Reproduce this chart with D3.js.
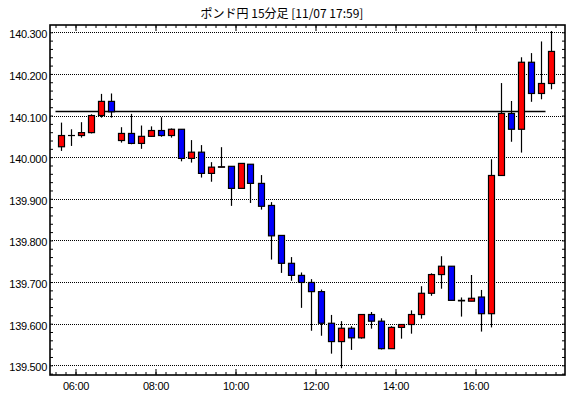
<!DOCTYPE html>
<html><head><meta charset="utf-8">
<script src="https://cdn.jsdelivr.net/npm/d3@7"></script>
<style>
html,body{margin:0;padding:0;background:#fff;}
svg{display:block;}
</style></head>
<body><svg id="chart" width="570" height="398"></svg>
<script>
const title = "ポンド円 15分足 [11/07 17:59]";
const times = ["05:30","05:45","06:00","06:15","06:30","06:45","07:00","07:15","07:30","07:45",
"08:00","08:15","08:30","08:45","09:00","09:15","09:30","09:45","10:00","10:15",
"10:30","10:45","11:00","11:15","11:30","11:45","12:00","12:15","12:30","12:45",
"13:00","13:15","13:30","13:45","14:00","14:15","14:30","14:45","15:00","15:15",
"15:30","15:45","16:00","16:15","16:30","16:45","17:00","17:15","17:30","17:45"];
const opens = [140.025,140.052,140.052,140.059,140.100,140.134,140.040,140.057,140.033,140.050,
140.064,140.052,140.067,139.997,140.012,139.961,139.976,139.978,139.925,139.983,
139.937,139.884,139.812,139.745,139.716,139.699,139.677,139.601,139.557,139.589,
139.566,139.622,139.606,139.540,139.591,139.598,139.622,139.673,139.718,139.738,
139.655,139.654,139.664,139.624,139.956,140.105,140.067,140.228,140.153,140.177];
const highs = [140.083,140.067,140.084,140.103,140.152,140.153,140.072,140.104,140.076,140.074,
140.096,140.069,140.067,140.041,140.029,139.988,140.024,139.978,139.985,139.983,
139.957,139.892,139.812,139.760,139.723,139.707,139.682,139.621,139.606,139.594,
139.622,139.628,139.613,139.594,139.598,139.632,139.690,139.721,139.762,139.738,
139.663,139.717,139.681,139.995,140.178,140.135,140.240,140.250,140.278,140.303];
const lows = [140.015,140.027,140.047,140.057,140.095,140.095,140.035,140.031,140.020,140.049,
140.049,140.047,139.990,139.987,139.951,139.941,139.976,139.883,139.925,139.890,
139.874,139.754,139.722,139.703,139.638,139.583,139.571,139.528,139.493,139.537,
139.564,139.588,139.538,139.540,139.564,139.576,139.612,139.667,139.684,139.656,
139.617,139.654,139.581,139.591,139.956,140.037,140.011,140.133,140.139,140.163];
const closes = [140.052,140.052,140.059,140.100,140.134,140.109,140.057,140.033,140.050,140.064,
140.052,140.067,139.997,140.012,139.961,139.976,139.977,139.925,139.985,139.937,
139.882,139.811,139.745,139.716,139.699,139.677,139.601,139.557,139.589,139.566,
139.622,139.606,139.540,139.591,139.598,139.622,139.673,139.718,139.738,139.656,
139.656,139.661,139.624,139.956,140.105,140.067,140.228,140.153,140.177,140.254];
const refLevel = 140.110;
const yLabels = ["139.500","139.600","139.700","139.800","139.900","140.000","140.100","140.200","140.300"];
const xLabels = ["06:00","08:00","10:00","12:00","14:00","16:00"];

const upColor = "#ff0000", downColor = "#0000ff";
const parseT = d3.timeParse("%Y-%m-%d %H:%M:%S");
const T = s => parseT("2023-11-07 " + (s.length === 5 ? s + ":00" : s));

const data = times.map((t, i) => ({t: T(t), o: opens[i], h: highs[i], l: lows[i], c: closes[i]}));

const L = 50, R = 565, TOP = 25, BOT = 375;
const svg = d3.select("#chart");
svg.append("rect").attr("width", 570).attr("height", 398).attr("fill", "#fff");

const x = d3.scaleTime().domain([T("05:21:45"), T("18:14:15")]).range([L, R]);
const y = d3.scaleLinear().domain([139.4767, 140.3175]).range([BOT, TOP]);
const half = 7.5 * 60 * 1000;
const cx = d => Math.round(x(new Date(+d.t + half))) + 0.5;

// gridlines
svg.append("g").selectAll("line").data(yLabels).join("line")
  .attr("x1", L).attr("x2", R)
  .attr("y1", d => Math.round(y(+d)) + 0.5).attr("y2", d => Math.round(y(+d)) + 0.5)
  .attr("stroke", "#000").attr("stroke-width", 1).attr("stroke-dasharray", "1,1");

// reference line
svg.append("line")
  .attr("x1", x(data[0].t)).attr("x2", x(data[data.length - 1].t))
  .attr("y1", Math.round(y(refLevel)) + 0.5).attr("y2", Math.round(y(refLevel)) + 0.5)
  .attr("stroke", "#000").attr("stroke-width", 1.3);

// candles
const g = svg.append("g");
g.selectAll("line.wick").data(data).join("line").attr("class", "wick")
  .attr("x1", cx).attr("x2", cx)
  .attr("y1", d => y(d.h)).attr("y2", d => y(d.l))
  .attr("stroke", "#000").attr("stroke-width", 1.2);
g.selectAll("rect.body").data(data.filter(d => Math.abs(d.c - d.o) >= 0.0005)).join("rect").attr("class", "body")
  .attr("x", d => cx(d) - 3).attr("width", 6)
  .attr("y", d => y(Math.max(d.o, d.c)))
  .attr("height", d => Math.max(0.5, Math.abs(y(d.o) - y(d.c))))
  .attr("fill", d => d.c > d.o ? upColor : downColor)
  .attr("stroke", "#000").attr("stroke-width", 1.2);
g.selectAll("line.doji").data(data.filter(d => Math.abs(d.c - d.o) < 0.0005)).join("line").attr("class", "doji")
  .attr("x1", d => cx(d) - 3.5).attr("x2", d => cx(d) + 3.5)
  .attr("y1", d => y(d.o)).attr("y2", d => y(d.o))
  .attr("stroke", "#000").attr("stroke-width", 1.2);

// ticks
const minorT = d3.timeMinute.every(15).range(T("05:22:00"), T("18:14:00"));
const majorT = xLabels.map(T);
const minorY = d3.range(139.48, 140.3101, 0.02);
const font = "'Liberation Sans', Arial, sans-serif";

function styleAxis(sel) {
  sel.select(".domain").remove();
  sel.selectAll(".tick line").attr("stroke", "#000").attr("stroke-width", 1);
  sel.selectAll("text").attr("fill", "#000").attr("font-family", font).attr("font-size", 11).attr("letter-spacing", "-0.3px");
}
svg.append("g").attr("transform", `translate(0,${BOT})`)
  .call(d3.axisBottom(x).tickValues(minorT).tickSize(-3).tickFormat("")).call(styleAxis);
svg.append("g").attr("transform", `translate(0,${BOT})`)
  .call(d3.axisBottom(x).tickValues(majorT).tickSize(-6).tickPadding(7).tickFormat(d3.timeFormat("%H:%M"))).call(styleAxis);
svg.append("g").attr("transform", `translate(0,${TOP})`)
  .call(d3.axisTop(x).tickValues(minorT).tickSize(-3).tickFormat("")).call(styleAxis);
svg.append("g").attr("transform", `translate(0,${TOP})`)
  .call(d3.axisTop(x).tickValues(majorT).tickSize(-6).tickFormat("")).call(styleAxis);
svg.append("g").attr("transform", `translate(${L},0)`)
  .call(d3.axisLeft(y).tickValues(minorY).tickSize(-3).tickFormat("")).call(styleAxis);
svg.append("g").attr("transform", `translate(${R},0)`)
  .call(d3.axisRight(y).tickValues(minorY).tickSize(-3).tickFormat("")).call(styleAxis);
const ya = svg.append("g").attr("transform", `translate(${L},0)`)
  .call(d3.axisLeft(y).tickValues(yLabels.map(Number)).tickSize(0).tickPadding(3).tickFormat(d3.format(".3f"))).call(styleAxis);
ya.selectAll("text").attr("dy", "0.5em");

// frame
svg.append("rect").attr("x", L).attr("y", TOP).attr("width", R - L).attr("height", BOT - TOP)
  .attr("fill", "none").attr("stroke", "#000").attr("stroke-width", 1.6);

// title
svg.append("text").attr("x", 282).attr("y", 18).attr("text-anchor", "middle")
  .attr("font-family", "'Noto Sans CJK JP', sans-serif").attr("font-size", 12).attr("fill", "#000")
  .text(title);
</script></body></html>
